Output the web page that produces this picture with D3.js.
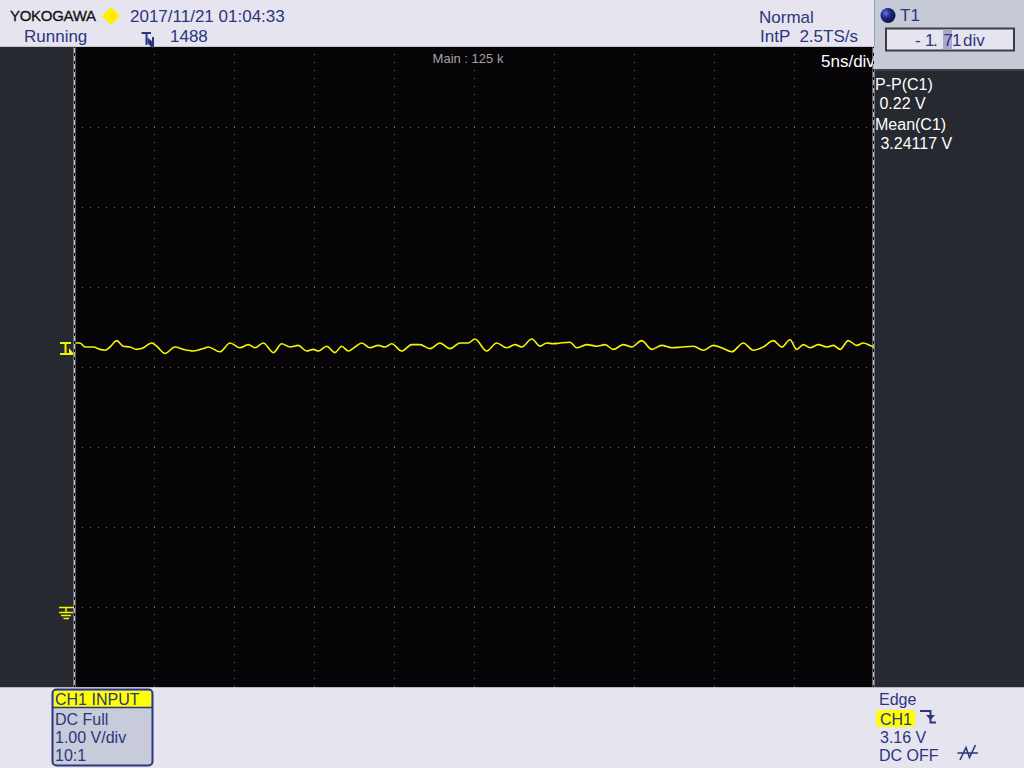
<!DOCTYPE html>
<html><head><meta charset="utf-8">
<script src="https://cdn.jsdelivr.net/npm/d3@7"></script>
<style>
body{margin:0;background:#e6e4ef;}
svg{display:block;}
text{font-family:"Liberation Sans",Arial,sans-serif;}
</style>
</head><body>
<svg id="c" width="1024" height="768"></svg>
<script>
const timeNs = [-24.88,-24.63,-24.31,-23.79,-23.38,-23.06,-22.75,-22.33,-21.92,-21.5,-21.08,-20.77,-20.14,-19.83,-19.31,-18.69,-18.17,-17.54,-16.92,-16.61,-15.88,-15.25,-14.63,-14.11,-13.69,-13.17,-12.54,-12.02,-11.5,-10.98,-10.46,-10.04,-9.73,-9.21,-8.69,-8.27,-7.86,-7.44,-7.02,-6.5,-5.98,-5.56,-5.14,-4.52,-3.89,-3.38,-2.75,-2.13,-1.5,-0.88,-0.36,0.06,0.79,1.42,2.04,2.56,2.98,3.61,4.13,4.54,4.96,5.38,6.0,6.42,7.04,7.67,8.19,8.71,9.33,9.86,10.48,11.11,11.73,12.36,12.98,13.71,14.33,14.96,15.48,16.11,16.83,17.46,18.08,18.71,19.23,19.75,20.17,20.58,21.0,21.52,22.04,22.46,22.88,23.39,23.92,24.33,24.75,25.0];
const voltsC1 = [3.30,3.30,3.25,3.25,3.22,3.21,3.25,3.33,3.26,3.25,3.22,3.23,3.30,3.26,3.17,3.25,3.22,3.20,3.23,3.25,3.19,3.30,3.24,3.28,3.24,3.30,3.18,3.29,3.25,3.27,3.20,3.22,3.20,3.26,3.18,3.26,3.20,3.25,3.30,3.24,3.27,3.25,3.29,3.20,3.28,3.28,3.23,3.30,3.23,3.30,3.30,3.35,3.20,3.30,3.24,3.28,3.25,3.35,3.26,3.30,3.29,3.30,3.31,3.24,3.28,3.26,3.28,3.22,3.28,3.25,3.33,3.22,3.27,3.24,3.25,3.26,3.21,3.27,3.24,3.19,3.30,3.21,3.25,3.33,3.25,3.34,3.22,3.28,3.24,3.28,3.25,3.27,3.22,3.33,3.27,3.30,3.27,3.25];
const timeGridNs = [-25,-20,-15,-10,-5,0,5,10,15,20,25];
const voltGrid = [-1,0,1,2,3,4,5,6,7];
const triggerLevelV = 3.16;
const groundV = 0;
const headerTexts = {brand:"YOKOGAWA", date:"2017/11/21 01:04:33", state:"Running", count:"1488", mode:"Normal", rate:"IntP  2.5TS/s", cursor:"T1"};
const measureLabels = ["P-P(C1)", " 0.22 V", "Mean(C1)", " 3.24117 V"];
const chLines = ["DC Full", "1.00 V/div", "10:1"];
const trigLines = ["Edge", "3.16 V", "DC OFF"];

// ---- layout ----
const W = 1024, H = 768;
const P = {l:74, t:47, r:874, b:687};
const NAVY = "#2b367e";
const svg = d3.select("#c");

const x = d3.scaleLinear().domain([-25, 25]).range([P.l, P.r]);
const y = d3.scaleLinear().domain([-1, 7]).range([P.b, P.t]);

// backgrounds
svg.append("rect").attr("x",0).attr("y",0).attr("width",W).attr("height",H).attr("fill","#e6e4ef");
svg.append("rect").attr("x",P.r+1).attr("y",0).attr("width",W-P.r-1).attr("height",70).attr("fill","#c6cad7");
svg.append("line").attr("x1",P.r+0.5).attr("x2",P.r+0.5).attr("y1",0).attr("y2",P.t).attr("stroke","#9ea2b0");
svg.append("rect").attr("x",0).attr("y",P.t).attr("width",P.l).attr("height",P.b-P.t).attr("fill","#26292f");
svg.append("rect").attr("x",P.r).attr("y",70).attr("width",W-P.r).attr("height",P.b-70).attr("fill","#26292f");
svg.append("line").attr("x1",P.r).attr("x2",W).attr("y1",70).attr("y2",70).attr("stroke","#3d4048").attr("stroke-width",2);
svg.append("rect").attr("x",P.l).attr("y",P.t).attr("width",P.r-P.l).attr("height",P.b-P.t).attr("fill","#070408");
svg.append("line").attr("x1",0).attr("x2",W).attr("y1",P.b+0.5).attr("y2",P.b+0.5).attr("stroke","#b9b9c2");
svg.append("line").attr("x1",0).attr("x2",W).attr("y1",P.t-0.5).attr("y2",P.t-0.5).attr("stroke","#c9c8d2");

// grid (dotted)
const grid = svg.append("g");
grid.selectAll(".vg").data(timeGridNs.slice(1,-1)).enter().append("line")
  .attr("x1",d=>Math.round(x(d))+0.5).attr("x2",d=>Math.round(x(d))+0.5)
  .attr("y1",P.t).attr("y2",P.b)
  .attr("stroke","#737373").attr("stroke-dasharray","1,7").attr("stroke-dashoffset",-7);
grid.selectAll(".hg").data(voltGrid.slice(1,-1)).enter().append("line")
  .attr("y1",d=>Math.round(y(d))+0.5).attr("y2",d=>Math.round(y(d))+0.5)
  .attr("x1",P.l).attr("x2",P.r)
  .attr("stroke","#737373").attr("stroke-dasharray","1,7").attr("stroke-dashoffset",-8);

// borders (light gray with black dashes)
[P.l+0.5, P.r-0.5].forEach(bx=>{
  svg.append("line").attr("x1",bx).attr("x2",bx).attr("y1",P.t).attr("y2",P.b).attr("stroke","#b8b8c1").attr("stroke-width",2);
  svg.append("line").attr("x1",bx).attr("x2",bx).attr("y1",P.t).attr("y2",P.b).attr("stroke","#000").attr("stroke-width",1).attr("stroke-dasharray","3,5").attr("stroke-dashoffset",-6);
});

// trace
svg.append("clipPath").attr("id","pc").append("rect").attr("x",P.l+1).attr("y",P.t).attr("width",P.r-P.l-2).attr("height",P.b-P.t);
const pts = timeNs.map((t,i)=>[t, voltsC1[i]]);
svg.append("path").datum(pts).attr("clip-path","url(#pc)")
  .attr("d", d3.line().x(d=>x(d[0])).y(d=>y(d[1])).curve(d3.curveMonotoneX))
  .attr("fill","none").attr("stroke","#f6f600").attr("stroke-width",1.6);

// in-plot texts
svg.append("text").attr("x",468).attr("y",63).attr("text-anchor","middle").attr("font-size",13).attr("fill","#a3a3a3").text("Main : 125 k");
svg.append("g").attr("clip-path","url(#pc)").append("text").attr("x",821).attr("y",67).attr("font-size",17).attr("fill","#ffffff").text("5ns/div");

// trigger level marker (left)
const ty = Math.round(y(triggerLevelV));
const tm = svg.append("g").attr("stroke","#f4f400").attr("stroke-width",2).attr("fill","none");
tm.append("path").attr("d",`M60,${ty-11}H71M65.5,${ty-11}V${ty}M60,${ty}H73`);
svg.append("path").attr("d",`M69,${ty-6}L74,${ty}L69,${ty}Z`).attr("fill","#f4f400");

// ground marker
const gy = Math.round(y(groundV))+0.5;
const gm = svg.append("g").attr("stroke","#f4f400").attr("stroke-width",1.5);
gm.append("line").attr("x1",59).attr("x2",74).attr("y1",gy).attr("y2",gy);
gm.append("line").attr("x1",66).attr("x2",66).attr("y1",gy).attr("y2",gy+5);
gm.append("line").attr("x1",59).attr("x2",73).attr("y1",gy+5).attr("y2",gy+5);
gm.append("line").attr("x1",61).attr("x2",71).attr("y1",gy+8).attr("y2",gy+8);
gm.append("line").attr("x1",63.5).attr("x2",69).attr("y1",gy+11).attr("y2",gy+11);

// header
svg.append("text").attr("x",10).attr("y",21).attr("font-size",15).attr("letter-spacing",-0.3).attr("fill","#111").attr("stroke","#111").attr("stroke-width",0.3).text(headerTexts.brand);
svg.append("path").attr("d","M111,8L119,16L111,24L103,16Z").attr("fill","#ffee00").attr("stroke","#ffee00").attr("stroke-linejoin","round").attr("stroke-width",1.5);
svg.append("text").attr("x",130).attr("y",22).attr("font-size",17).attr("fill",NAVY).text(headerTexts.date);
svg.append("text").attr("x",24).attr("y",42).attr("font-size",17).attr("fill",NAVY).text(headerTexts.state);
svg.append("text").attr("x",170).attr("y",42).attr("font-size",17).attr("fill",NAVY).text(headerTexts.count);
// trigger position marker
const tp = svg.append("g").attr("fill",NAVY);
tp.append("rect").attr("x",141.5).attr("y",32).attr("width",9.5).attr("height",2);
tp.append("rect").attr("x",145.5).attr("y",32).attr("width",2).attr("height",13);
tp.append("path").attr("d","M147.5,37.5L154,43L154,47.5L151.5,47.5L147.5,43Z");
tp.append("rect").attr("x",152).attr("y",37).attr("width",2).attr("height",10.5);

svg.append("text").attr("x",759).attr("y",23).attr("font-size",17).attr("fill",NAVY).text(headerTexts.mode);
svg.append("text").attr("x",760).attr("y",42).attr("font-size",17).attr("fill",NAVY).style("white-space","pre").text(headerTexts.rate);

// T1 cursor box
const grad = svg.append("defs").append("radialGradient").attr("id","ball").attr("cx","35%").attr("cy","35%").attr("r","70%");
grad.append("stop").attr("offset","0%").attr("stop-color","#6a78d8");
grad.append("stop").attr("offset","45%").attr("stop-color","#1d2a8a");
grad.append("stop").attr("offset","100%").attr("stop-color","#0a1040");
svg.append("circle").attr("cx",888).attr("cy",15.5).attr("r",7.5).attr("fill","url(#ball)");
svg.append("text").attr("x",900).attr("y",21).attr("font-size",17).attr("fill",NAVY).text(headerTexts.cursor);
svg.append("rect").attr("x",886).attr("y",28.5).attr("width",128).attr("height",22).attr("fill","#e6e4ef").attr("stroke","#3c3c44").attr("stroke-width",2);
svg.append("rect").attr("x",943).attr("y",29.5).attr("width",9).attr("height",20).attr("fill","#aaa8cc");
[["-",915],["1",925],[".",933],["7",943.5],["1",952],["div",963]].forEach(([s,px])=>{
  svg.append("text").attr("x",px).attr("y",46).attr("font-size",17).attr("fill",NAVY).text(s);
});

// measurements (right panel)
const mx = [875, 875, 875, 876];
const my = [90, 109, 130, 149];
measureLabels.forEach((s,i)=>{
  svg.append("text").attr("x",mx[i]).attr("y",my[i]).attr("font-size",16).attr("fill","#ffffff").style("white-space","pre").text(s);
});

// CH1 box
svg.append("rect").attr("x",52.5).attr("y",689.5).attr("width",100).attr("height",76).attr("rx",4).attr("fill","#c8cbd9").attr("stroke",NAVY).attr("stroke-width",2);
svg.append("rect").attr("x",54).attr("y",691).attr("width",97).attr("height",16).attr("fill","#ffff00");
svg.append("line").attr("x1",53).attr("x2",152).attr("y1",707.5).attr("y2",707.5).attr("stroke",NAVY).attr("stroke-width",1.5);
svg.append("text").attr("x",55).attr("y",705).attr("font-size",16).attr("fill",NAVY).text("CH1 INPUT");
[725,743,761].forEach((by,i)=>{
  svg.append("text").attr("x",55).attr("y",by).attr("font-size",16).attr("fill",NAVY).text(chLines[i]);
});

// Trigger info
svg.append("text").attr("x",879).attr("y",705).attr("font-size",16).attr("fill",NAVY).text(trigLines[0]);
svg.append("rect").attr("x",876).attr("y",710).attr("width",39).attr("height",17).attr("rx",4).attr("fill","#ffff00");
svg.append("text").attr("x",880).attr("y",724.5).attr("font-size",16).attr("fill",NAVY).text("CH1");
svg.append("path").attr("d","M920,711H930.5V722.5H936").attr("fill","none").attr("stroke",NAVY).attr("stroke-width",2);
svg.append("path").attr("d","M926,715L930.5,720L935,715Z").attr("fill",NAVY);
svg.append("text").attr("x",880).attr("y",743).attr("font-size",16).attr("fill",NAVY).text(trigLines[1]);
svg.append("text").attr("x",879).attr("y",761).attr("font-size",16).attr("fill",NAVY).text(trigLines[2]);
svg.append("path").attr("d","M960,760L966,747.5L969.5,757.5L975.5,745M957.5,753H978").attr("fill","none").attr("stroke",NAVY).attr("stroke-width",1.6);
</script>
</body></html>
